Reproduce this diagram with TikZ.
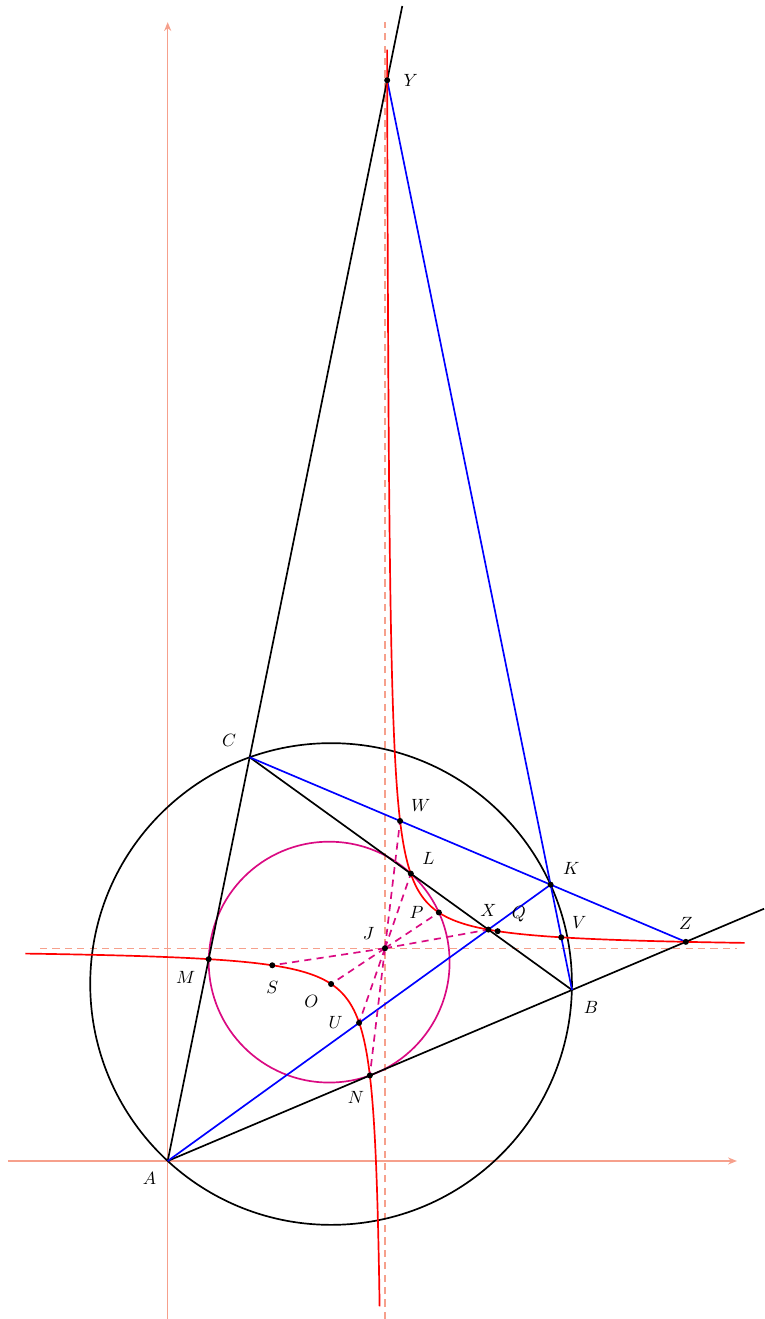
\documentclass[tikz,border=0pt]{standalone}
\usepackage{tikz}
\usetikzlibrary{arrows.meta,positioning,calc}
\definecolor{salmon}{HTML}{F6A08C}
\definecolor{magenta}{HTML}{DA0A82}
\tikzset{
axis/.style={line width=0.75pt,draw=salmon,-{Stealth[length=5pt,width=4pt]}},
asym/.style={line width=0.75pt,draw=salmon,dash pattern=on 4pt off 3pt},
side/.style={line width=0.95pt,draw=black},
cev/.style={line width=0.95pt,draw=blue},
hyp/.style={line width=0.95pt,draw=red},
ray/.style={line width=0.95pt,draw=magenta,dash pattern=on 4pt off 3pt},
lbl/.style={inner sep=0pt,font=\normalsize}
}
\begin{document}
\begin{tikzpicture}[x=0.8cm,y=0.8cm]
\useasboundingbox (-4.154,-3.914) rectangle (14.771,28.759);
% triangle and the points built on it
\coordinate (A) at (0,0);
\coordinate (B) at (10.015,4.236);
\coordinate (C) at (2.031,10);
\coordinate (O) at (4.047,4.384);
\coordinate (Nc) at (4.0,4.926);
\coordinate (J) at (5.382,5.27);
\coordinate (M) at ($(A)!.5!(C)$);
\coordinate (N) at ($(A)!.5!(B)$);
\coordinate (L) at ($(B)!.5!(C)$);
\coordinate (Y) at (5.437,26.77);
\coordinate (Z) at (12.834,5.428);
\coordinate (K) at (9.485,6.845);
\coordinate (X) at (7.943,5.732);
\coordinate (U) at (4.741,3.422);
\coordinate (W) at (5.7565,8.422);
\coordinate (V) at (9.7485,5.54);
\coordinate (P) at (6.717,6.156);
\coordinate (S) at (2.591,4.848);
\coordinate (Q) at (8.173,5.692);
\coordinate (Ctop) at ($(A)!2.861!(C)$);
\coordinate (Bend) at ($(A)!1.475!(B)$);
% axes and asymptotes
\coordinate (xl) at (-3.956,0);
\coordinate (xr) at (14.10,0);
\coordinate (yb) at (0,-3.914);
\coordinate (yt) at (0,28.21);
\draw[axis] (xl) -- (xr);
\draw[axis] (yb) -- (yt);
\coordinate (vb) at (5.382,-3.914);
\coordinate (vt) at (5.382,28.22);
\coordinate (hl) at (-3.163,5.27);
\coordinate (hr) at (14.10,5.27);
\draw[asym] (vb) -- (vt);
\draw[asym] (hl) -- (hr);
% circles
\draw[side] (O) circle[radius=5.966];
\draw[line width=0.95pt,draw=magenta] (Nc) circle[radius=2.983];
% lines
\draw[side] (A) -- (Ctop);
\draw[side] (A) -- (Bend);
\draw[side] (C) -- (B);
\draw[cev] (Y) -- (B);
\draw[cev] (C) -- (Z);
\draw[cev] (A) -- (K);
% hyperbola, both branches
\draw[hyp] plot[domain=-2.1:2.105,samples=150,smooth,variable=\s]
  ({5.382-1.0863*exp(\s)},{5.27-1.0863*exp(-\s)});
\draw[hyp] plot[domain=-3.02:2.105,samples=150,smooth,variable=\s]
  ({5.382+1.0863*exp(\s)},{5.27+1.0863*exp(-\s)});
% rays from the centre
\draw[ray] (J) -- (W);
\draw[ray] (J) -- (L);
\draw[ray] (J) -- (P);
\draw[ray] (J) -- (X);
\draw[ray] (J) -- (S);
\draw[ray] (J) -- (O);
\draw[ray] (J) -- (U);
\draw[ray] (J) -- (N);
\fill (Y) circle[radius=1.7pt] (K) circle[radius=1.7pt] (Z) circle[radius=1.7pt]
  (V) circle[radius=1.7pt] (W) circle[radius=1.7pt] (L) circle[radius=1.7pt]
  (P) circle[radius=1.7pt] (X) circle[radius=1.7pt] (Q) circle[radius=1.7pt]
  (J) circle[radius=1.7pt] (M) circle[radius=1.7pt] (S) circle[radius=1.7pt]
  (O) circle[radius=1.7pt] (U) circle[radius=1.7pt] (N) circle[radius=1.7pt];
% labels
\node[lbl,below left=6pt and 6.3pt of A] (lA) {$A$};
\node[lbl,below right=6.5pt and 6.5pt of B] (lB) {$B$};
\node[lbl,above left=6pt and 7.5pt of C] (lC) {$C$};
\node[lbl,right=9pt of Y] (lY) {$Y$};
\node[lbl,above right=5.5pt and 6.8pt of K] (lK) {$K$};
\node[lbl,above=7pt of Z] (lZ) {$Z$};
\node[lbl,above right=5pt and 6pt of V] (lV) {$V$};
\node[lbl,above right=5pt and 6pt of W] (lW) {$W$};
\node[lbl,above right=5pt and 6.3pt of L] (lL) {$L$};
\node[lbl,left=8.5pt of P] (lP) {$P$};
\node[lbl,above=7pt of X] (lX) {$X$};
\node[lbl,above right=5pt and 7.8pt of Q] (lQ) {$Q$};
\node[lbl,above left=5pt and 5.7pt of J] (lJ) {$J$};
\node[lbl,below left=6.5pt and 7.4pt of M] (lM) {$M$};
\node[lbl,below=9pt of S] (lS) {$S$};
\node[lbl,below left=6pt and 6.9pt of O] (lO) {$O$};
\node[lbl,left=9pt of U] (lU) {$U$};
\node[lbl,below left=9pt and 3pt of N] (lN) {$N$};
\end{tikzpicture}
\end{document}
